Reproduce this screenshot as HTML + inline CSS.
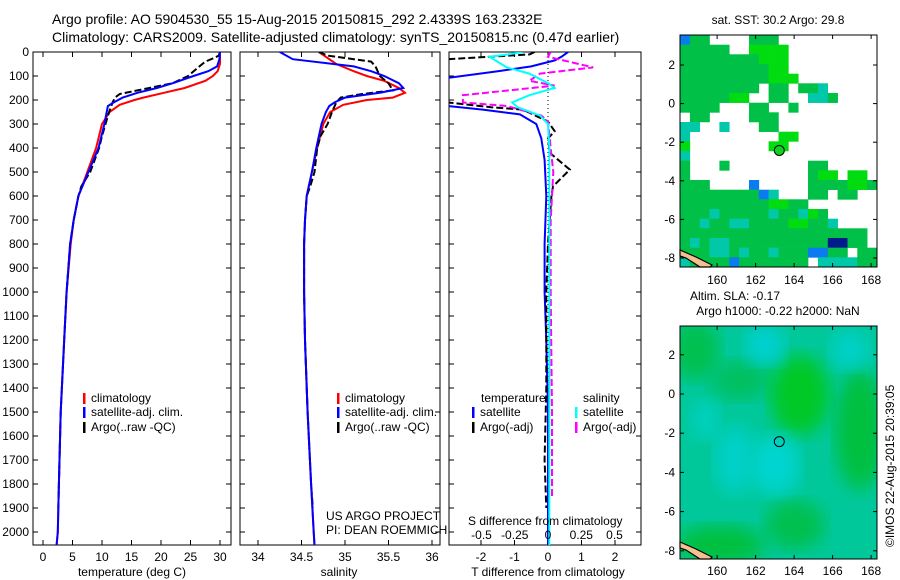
<!DOCTYPE html>
<html><head><meta charset="utf-8"><style>
body{margin:0;background:#fff;}
svg{display:block;font-family:"Liberation Sans",sans-serif;}
</style></head><body>
<svg id="fig" width="900" height="580" viewBox="0 0 900 580">
<defs>
<clipPath id="c1"><rect x="33" y="52" width="198" height="493"/></clipPath>
<clipPath id="c2"><rect x="240" y="52" width="200" height="493"/></clipPath>
<clipPath id="c3"><rect x="449" y="52" width="192" height="493"/></clipPath>
<clipPath id="cm2"><rect x="680" y="326" width="197" height="233"/></clipPath>
<filter id="blur"><feGaussianBlur stdDeviation="9"/></filter>
</defs>
<text x="52" y="24" font-size="14">Argo profile: AO 5904530_55 15-Aug-2015 20150815_292 2.4339S 163.2332E</text>
<text x="52" y="42" font-size="14">Climatology: CARS2009. Satellite-adjusted climatology: synTS_20150815.nc (0.47d earlier)</text>
<g id="g1"></g>
<g id="g2"></g>
<g id="g3"></g>
<g id="m1"></g>
<g id="m2"></g>
<text x="735" y="300" font-size="12" text-anchor="middle">Altim. SLA: -0.17</text>
<text x="778" y="315" font-size="12" text-anchor="middle">Argo h1000: -0.22 h2000: NaN</text>
<text x="778" y="24" font-size="12" text-anchor="middle">sat. SST: 30.2 Argo: 29.8</text>
<text transform="translate(894,547) rotate(-90)" font-size="12">©IMOS 22-Aug-2015 20:39:05</text>
</svg>
<script>
// ---- data ----
const depthTicks=[0,100,200,300,400,500,600,700,800,900,1000,1100,1200,1300,1400,1500,1600,1700,1800,1900,2000];
const tTicks=[0,5,10,15,20,25,30];
const sTicks=[34,34.5,35,35.5,36];
const sTickLabels=["34","34.5","35","35.5","36"];
const dTTicks=[-2,-1,0,1,2];
const dSTicks=[-0.5,-0.25,0,0.25,0.5];
const dSTickLabels=["-0.5","-0.25","0","0.25","0.5"];

const climDepth=[0,50,80,100,120,150,170,190,200,220,250,300,400,500,600,700,800,1000,1200,1500,1800,2000,2055];
const climT=[30,30,29.6,28.8,27.5,24,20.5,17,15.5,13,11.3,10,9,7.5,6,5.2,4.7,4,3.6,3,2.7,2.5,2.3];
const climS=[34.7,34.9,35.1,35.25,35.45,35.62,35.69,35.55,35.25,34.98,34.83,34.75,34.68,34.62,34.56,34.54,34.53,34.53,34.54,34.57,34.61,34.64,34.65];

const satDepth=[0,30,60,80,100,130,150,170,190,210,225,250,300,400,500,600,700,800,1000,1200,1500,1800,2000,2055];
const satT=[30,29.9,29.5,28,25.5,22,19.3,16,13.5,12,11,10.8,10.4,9.4,7.7,6,5.2,4.6,4,3.6,3,2.7,2.5,2.3];
const satS=[34.25,34.4,35.1,35.3,35.45,35.62,35.67,35.4,35.0,34.88,34.82,34.78,34.73,34.67,34.62,34.56,34.54,34.53,34.53,34.54,34.57,34.61,34.64,34.65];

const argoDepth=[0,15,25,40,60,100,130,160,175,190,210,250,300,350,400,500,560,600,700,800,1000,1200,1500,1800,1900];
const argoT=[30,29.8,29,27.5,26.5,24.6,22,16,13,12.2,11.8,11.2,10.6,10,9.5,8,6.5,6,5.2,4.6,4,3.6,3,2.7,2.6];
const argoS=[34.7,34.8,35.0,35.3,35.35,35.4,35.5,35.55,35.2,34.95,34.9,34.85,34.8,34.72,34.68,34.65,34.6,34.56,34.54,34.53,34.53,34.54,34.57,34.61,34.63];

const dDepth=[0,20,35,60,80,108,225,240,260,300,360,450,600,800,1000,1200,1500,1800,2000,2055];
const dTsat=[0.6,0.4,0.2,-0.5,-1.5,-3,-3,-1.95,-0.84,-0.35,-0.2,-0.1,-0.05,-0.1,-0.1,-0.05,0,0,0,0];
const dDepthA=[0,10,30,210,230,240,290,330,360,420,490,560,600,800,1000,1400,1700,1900];
const dTargo=[-0.4,-0.55,-3,-3,-1.7,-0.75,0,0.2,0,0.05,0.65,0.15,0.1,0,-0.05,-0.05,-0.1,-0.05];
const dDepthS=[0,10,20,64,90,130,150,180,210,230,265,300,400,600,1000,1500,2055];
const dSsat=[-0.19,-0.3,-0.44,-0.31,-0.14,0,0.05,-0.14,-0.27,-0.23,-0.06,0,0.01,0.01,0.01,0.01,0.01];
const dDepthSA=[0,10,20,64,90,120,140,180,210,225,265,290,400,500,700,1000,1500,1850];
const dSargo=[0.02,0.01,0,0.34,-0.06,-0.14,0.05,-0.64,-0.64,-0.31,-0.05,0,0.02,0.04,0.02,0.02,0.03,0.03];

const lonTicks=[160,162,164,166,168];
const latTicks=[2,0,-2,-4,-6,-8];
const sstMask=[
"bgg....ggg..........",
"ggggg..GGGG.........",
"ggggggggGGG.........",
"gggggggggGG.........",
"gggggggggGGG........",
"gggggggg.gg.ggc.....",
"gggggGG..gg..ccg....",
"gggg...gg..g........",
".gg....ggg..........",
"cc..c...gg..........",
"c.........GG........",
"G........GG.........",
"c...................",
"g...g........gg.....",
"g............gGG.GG.",
"ggg....b.....ggggGGg",
"ggggggggbc...gg.gg..",
"gggggggggGGgg.......",
"gggcgggggcggcGg.....",
"ggcggccggggGGggc....",
"ggggggggggggggggggg.",
"gcgccggggggggggnngg.",
"gggccgcggcgggbbgg.gg",
"cggggbggggggg.ccccgg"];
const sstColors={g:"#00c048",G:"#00dc10",c:"#00c8a8",b:"#0a7cf0",n:"#001c8c"};

// ---- scales ----
const yD=d=>52+d*0.24;
const xT=t=>43+t*5.9;
const xS=s=>258+(s-34)*87;
const xDT=v=>548+v*33.5;
const xDS=v=>548+v*133;
const mxLon=l=>679+(l-158.02)*19.25;
const my1=la=>103.6-la*19.3;
const my2=la=>394-la*19.6;

const NS="http://www.w3.org/2000/svg";
function mk(tag,attrs,parent,txt){const e=document.createElementNS(NS,tag);for(const k in attrs)e.setAttribute(k,attrs[k]);if(txt!==undefined)e.textContent=txt;parent.appendChild(e);return e;}
function line(xs,ds,xf,col,w,dash,parent,clip,name){
  const pts=xs.map((v,i)=>xf(v).toFixed(1)+","+yD(ds[i]).toFixed(1)).join(" ");
  const e=mk("polyline",{points:pts,fill:"none",stroke:col,"stroke-width":w,"clip-path":"url(#"+clip+")"},parent);
  if(dash)e.setAttribute("stroke-dasharray",dash);
  
  
}
function frame(g,x0,x1,labels,name){
  const r=mk("rect",{x:x0,y:52,width:x1-x0,height:493,fill:"none",stroke:"#000","stroke-width":1},g);
  
  
  depthTicks.forEach(d=>{
    mk("line",{x1:x0,x2:x0+5,y1:yD(d),y2:yD(d),stroke:"#000"},g);
    mk("line",{x1:x1,x2:x1-5,y1:yD(d),y2:yD(d),stroke:"#000"},g);
    if(labels){const t=mk("text",{x:29,y:yD(d)+4,"font-size":12,"text-anchor":"end"},g,String(d));
      
      }
  });
}
function xticks(g,vals,labs,xf,yb){
  vals.forEach((v,i)=>{
    mk("line",{x1:xf(v),x2:xf(v),y1:545,y2:540,stroke:"#000"},g);
    mk("line",{x1:xf(v),x2:xf(v),y1:52,y2:57,stroke:"#000"},g);
    const t=mk("text",{x:xf(v),y:yb,"font-size":12,"text-anchor":"middle"},g,labs[i]);
    
    
  });
}
function legend(g,x,y,col,txt){
  mk("rect",{x:x,y:y-9,width:2.5,height:11,fill:col},g);
  const t=mk("text",{x:x+8,y:y,"font-size":12},g,txt);
  
  
}
function label(g,x,y,txt,anchor){const t=mk("text",{x:x,y:y,"font-size":12,"text-anchor":anchor||"start"},g,txt);
  
  }

// panel 1
const g1=document.getElementById("g1");
frame(g1,33,231,true,"temperature-frame");
xticks(g1,tTicks,tTicks.map(String),xT,561);
line(climT,climDepth,xT,"#ff0000",2,null,g1,"c1","temperature-climatology-line");
line(argoT,argoDepth,xT,"#000",2,"7,3",g1,"c1","temperature-argo-line");
line(satT,satDepth,xT,"#0000ff",2,null,g1,"c1","temperature-satellite-line");
legend(g1,83,402,"#f00","climatology");legend(g1,83,416,"#00f","satellite-adj. clim.");legend(g1,83,431,"#000","Argo(..raw -QC)");
label(g1,132,576,"temperature (deg C)","middle");

// panel 2
const g2=document.getElementById("g2");
frame(g2,240,440,false,"salinity-frame");
xticks(g2,sTicks,sTickLabels,xS,561);
line(climS,climDepth,xS,"#ff0000",2,null,g2,"c2","salinity-climatology-line");
line(argoS,argoDepth,xS,"#000",2,"7,3",g2,"c2","salinity-argo-line");
line(satS,satDepth,xS,"#0000ff",2,null,g2,"c2","salinity-satellite-line");
legend(g2,337,402,"#f00","climatology");legend(g2,337,416,"#00f","satellite-adj. clim.");legend(g2,337,431,"#000","Argo(..raw -QC)");
label(g2,326,520,"US ARGO PROJECT");label(g2,326,534,"PI: DEAN ROEMMICH");
label(g2,339,576,"salinity","middle");

// panel 3
const g3=document.getElementById("g3");
frame(g3,449,641,false,"difference-frame");
xticks(g3,dTTicks,dTTicks.map(String),xDT,561);
mk("line",{x1:548,x2:548,y1:52,y2:545,stroke:"#000","stroke-dasharray":"1,3"},g3);
line(dTsat,dDepth,xDT,"#0000ff",2,null,g3,"c3","t-diff-satellite-line");
line(dTargo,dDepthA,xDT,"#000",2,"7,3",g3,"c3","t-diff-argo-line");
line(dSargo,dDepthSA,xDS,"#ff00ff",2,"7,3",g3,"c3","s-diff-argo-line");
line(dSsat,dDepthS,xDS,"#00ffff",2,null,g3,"c3","s-diff-satellite-line");
label(g3,481,402,"temperature");label(g3,583,402,"salinity");
legend(g3,472,416,"#00f","satellite");legend(g3,472,431,"#000","Argo(-adj)");
legend(g3,575,416,"#0ff","satellite");legend(g3,575,431,"#f0f","Argo(-adj)");
label(g3,468,525,"S difference from climatology");
dSTicks.forEach((v,i)=>label(g3,xDS(v),539,dSTickLabels[i],"middle"));
label(g3,548,576,"T difference from climatology","middle");

// maps
function mapFrame(g,top,bot,my,ylab){
  const r=mk("rect",{x:680,y:top,width:197,height:bot-top,fill:"none",stroke:"#000"},g);
  
  
  lonTicks.forEach(l=>{const x=mxLon(l);
    mk("line",{x1:x,x2:x,y1:top,y2:top+4,stroke:"#000"},g);mk("line",{x1:x,x2:x,y1:bot,y2:bot-4,stroke:"#000"},g);
    const t=mk("text",{x:x,y:ylab,"font-size":12,"text-anchor":"middle"},g,String(l));
    
    });
  latTicks.forEach(la=>{const y=my(la);
    mk("line",{x1:680,x2:684,y1:y,y2:y,stroke:"#000"},g);mk("line",{x1:877,x2:873,y1:y,y2:y,stroke:"#000"},g);
    const t=mk("text",{x:675,y:y+4,"font-size":12,"text-anchor":"end"},g,String(la));
    
    });
  mk("path",{d:`M680 ${bot-17} L696 ${bot-10} L712 ${bot-2} L710 ${bot} L700 ${bot} L686 ${bot-9} L680 ${bot-11} Z`,fill:"#f5c090",stroke:"#000","stroke-width":1.2},g);
}
const m1=document.getElementById("m1");
const cw=197/20,ch=232/24;
sstMask.forEach((row,r)=>{[...row].forEach((c,k)=>{if(c!=="."){
  const e=mk("rect",{x:(680+k*cw).toFixed(1),y:(35+r*ch).toFixed(1),width:cw+0.3,height:ch+0.3,fill:sstColors[c]},m1);
  
  }})});
mapFrame(m1,35,267,my1,284);
const a1=mk("circle",{cx:mxLon(163.23),cy:my1(-2.43),r:5,fill:"#10d020",stroke:"#000"},m1);



const m2=document.getElementById("m2");
const bg=mk("rect",{x:680,y:326,width:197,height:233,fill:"#00c89a"},m2);


const blobs=[[695,350,25,30,"#00c050"],[740,380,30,20,"#00c060"],[800,395,30,40,"#00c828"],[860,430,25,60,"#00c040"],[720,545,45,20,"#00c040"],[795,525,30,25,"#00c050"],[765,345,20,20,"#00d0d0"],[850,350,20,20,"#00d0c8"],[775,465,25,30,"#00d4d0"],[735,460,20,35,"#00d0c8"],[705,420,15,20,"#00d0c0"]];
blobs.forEach(b=>{const e=mk("ellipse",{cx:b[0],cy:b[1],rx:b[2],ry:b[3],fill:b[4],filter:"url(#blur)","clip-path":"url(#cm2)"},m2);
  
  });
mapFrame(m2,326,559,my2,575);
const a2=mk("circle",{cx:mxLon(163.23),cy:my2(-2.43),r:5,fill:"none",stroke:"#000"},m2);


</script>
</body></html>
